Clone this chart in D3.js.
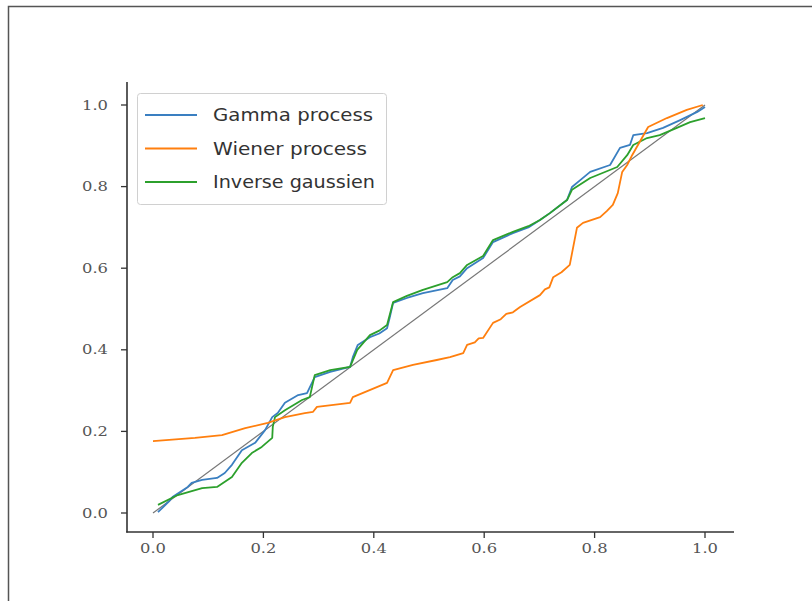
<!DOCTYPE html>
<html><head><meta charset="utf-8">
<script src="https://cdn.jsdelivr.net/npm/d3@7"></script>
<style>body{margin:0;background:#fff}svg{display:block}</style>
</head><body>
<svg id="c" width="812" height="601"></svg>
<script>
const seriesNames = ["Gamma process", "Wiener process", "Inverse gaussien"];
const seriesColors = ["#3a7fc1", "#ff7f0e", "#2ca02c"];
const xTicks = [0.0, 0.2, 0.4, 0.6, 0.8, 1.0];
const yTicks = [0.0, 0.2, 0.4, 0.6, 0.8, 1.0];

const gammaX = [0.009,0.030,0.036,0.063,0.070,0.089,0.116,0.130,0.143,0.161,0.185,0.203,0.216,0.226,0.239,0.263,0.279,0.293,0.321,0.357,0.362,0.371,0.393,0.410,0.424,0.429,0.435,0.460,0.489,0.533,0.543,0.556,0.569,0.598,0.616,0.652,0.680,0.701,0.719,0.750,0.759,0.774,0.792,0.828,0.846,0.864,0.870,0.895,0.924,0.955,0.986,1.0];
const gammaY = [0.002,0.030,0.040,0.064,0.074,0.081,0.086,0.098,0.118,0.154,0.172,0.203,0.235,0.245,0.270,0.289,0.294,0.333,0.346,0.358,0.382,0.412,0.431,0.440,0.453,0.480,0.515,0.527,0.539,0.551,0.571,0.580,0.600,0.625,0.664,0.686,0.700,0.718,0.735,0.767,0.799,0.816,0.836,0.853,0.895,0.902,0.926,0.931,0.944,0.963,0.983,0.995];

const wienerX = [0.0,0.076,0.125,0.167,0.208,0.239,0.275,0.290,0.297,0.357,0.362,0.424,0.435,0.471,0.514,0.538,0.562,0.569,0.583,0.590,0.598,0.616,0.630,0.640,0.652,0.665,0.701,0.710,0.718,0.725,0.740,0.755,0.768,0.779,0.810,0.822,0.833,0.842,0.850,0.859,0.868,0.897,0.931,0.967,0.996];
const wienerY = [0.176,0.184,0.191,0.208,0.221,0.235,0.245,0.248,0.260,0.270,0.284,0.319,0.350,0.363,0.375,0.382,0.392,0.412,0.418,0.428,0.429,0.466,0.475,0.488,0.492,0.505,0.534,0.548,0.553,0.578,0.590,0.608,0.699,0.711,0.725,0.740,0.755,0.784,0.836,0.853,0.877,0.946,0.968,0.988,1.0];

const invX = [0.009,0.045,0.089,0.116,0.143,0.161,0.179,0.197,0.216,0.217,0.221,0.239,0.270,0.284,0.293,0.321,0.357,0.370,0.393,0.410,0.424,0.435,0.460,0.489,0.533,0.543,0.556,0.569,0.598,0.616,0.652,0.680,0.701,0.719,0.750,0.759,0.792,0.841,0.859,0.870,0.895,0.918,0.949,0.973,1.0];
const invY = [0.020,0.044,0.061,0.064,0.088,0.123,0.147,0.162,0.184,0.211,0.235,0.252,0.277,0.284,0.338,0.350,0.358,0.400,0.436,0.447,0.461,0.517,0.532,0.547,0.566,0.578,0.588,0.608,0.630,0.669,0.689,0.703,0.718,0.735,0.767,0.792,0.821,0.848,0.877,0.902,0.919,0.926,0.944,0.958,0.968];

const seriesX = [gammaX, wienerX, invX];
const seriesY = [gammaY, wienerY, invY];

const svg = d3.select("#c");
svg.append("path").attr("d","M8.5,601 L8.5,6.5 L812,6.5").attr("fill","none").attr("stroke","#555").attr("stroke-width",1.5);

const x = d3.scaleLinear().domain([0,1]).range([153,705]);
const y = d3.scaleLinear().domain([0,1]).range([513,105]);

svg.append("line").attr("x1",x(0)).attr("y1",y(0)).attr("x2",x(1)).attr("y2",y(1))
  .attr("stroke","#777").attr("stroke-width",1.2);

const line = d3.line().x(d=>x(d[0])).y(d=>y(d[1]));
[0,2,1].forEach(i=>{
  const pts = seriesX[i].map((v,k)=>[v, seriesY[i][k]]);
  svg.append("path").datum(pts).attr("d",line).attr("fill","none")
    .attr("stroke",seriesColors[i]).attr("stroke-width",1.8).attr("stroke-linejoin","round");
});

const spineColor = "#333";
svg.append("line").attr("x1",127).attr("x2",127).attr("y1",82).attr("y2",532.5).attr("stroke",spineColor).attr("stroke-width",1.6);
svg.append("line").attr("x1",126.2).attr("x2",734).attr("y1",532).attr("y2",532).attr("stroke",spineColor).attr("stroke-width",1.6);

const xg = svg.append("g");
xTicks.forEach(t=>{
  xg.append("line").attr("x1",x(t)).attr("x2",x(t)).attr("y1",532).attr("y2",538).attr("stroke",spineColor).attr("stroke-width",1.3);
  xg.append("text").attr("x",x(t)).attr("y",553).attr("text-anchor","middle")
    .attr("font-family","DejaVu Serif").attr("font-size",12).attr("fill","#555")
    .attr("textLength",26).attr("lengthAdjust","spacingAndGlyphs").text(d3.format(".1f")(t));
});
const yg = svg.append("g");
yTicks.forEach(t=>{
  yg.append("line").attr("x1",121).attr("x2",127).attr("y1",y(t)).attr("y2",y(t)).attr("stroke",spineColor).attr("stroke-width",1.3);
  yg.append("text").attr("x",108).attr("y",y(t)+4.5).attr("text-anchor","end")
    .attr("font-family","DejaVu Serif").attr("font-size",12).attr("fill","#555")
    .attr("textLength",26).attr("lengthAdjust","spacingAndGlyphs").text(d3.format(".1f")(t));
});

const lg = svg.append("g");
lg.append("rect").attr("x",137.5).attr("y",93.5).attr("width",249).attr("height",111).attr("rx",3)
  .attr("fill","#fff").attr("fill-opacity",0.85).attr("stroke","#d0d0d0").attr("stroke-width",1);
const legendWidths = [160, 154, 162];
seriesNames.forEach((n,i)=>{
  const yy = 115 + i*33.5;
  lg.append("line").attr("x1",145).attr("x2",197).attr("y1",yy).attr("y2",yy).attr("stroke",seriesColors[i]).attr("stroke-width",2);
  lg.append("text").attr("x",213).attr("y",yy+6).attr("font-family","DejaVu Sans").attr("font-size",17)
    .attr("fill","#333").attr("textLength",legendWidths[i]).attr("lengthAdjust","spacingAndGlyphs").text(n);
});
</script>
</body></html>
